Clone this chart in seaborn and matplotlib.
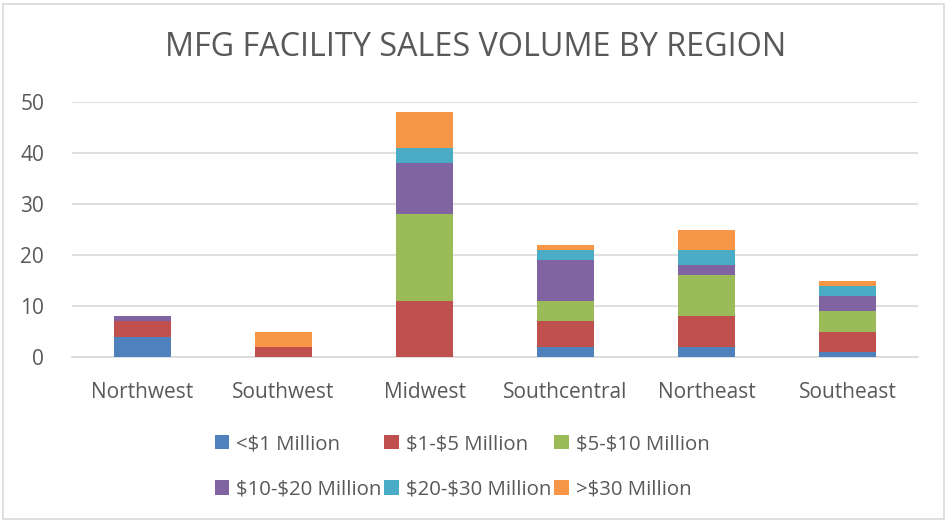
import matplotlib
matplotlib.use("Agg")
import matplotlib.pyplot as plt
import seaborn as sns
import numpy as np
import pandas as pd
from matplotlib.patches import Rectangle, Patch

regions = ["Northwest", "Southwest", "Midwest", "Southcentral", "Northeast", "Southeast"]
series_names = ["<$1 Million", "$1-$5 Million", "$5-$10 Million",
                "$10-$20 Million", "$20-$30 Million", ">$30 Million"]
lt1 = [4, 0, 0, 2, 2, 1]
m1_5 = [3, 2, 11, 5, 6, 4]
m5_10 = [0, 0, 17, 4, 8, 4]
m10_20 = [1, 0, 10, 8, 2, 3]
m20_30 = [0, 0, 3, 2, 3, 2]
gt30 = [0, 3, 7, 1, 4, 1]
colors = ["#4f81bd", "#c0504d", "#9bbb59", "#8064a2", "#4bacc6", "#f79646"]
yticks = [0, 10, 20, 30, 40, 50]

sns.set_theme(style="white")
plt.rcParams["font.family"] = ["Open Sans", "DejaVu Sans"]
plt.rcParams["text.parse_math"] = False
txt = "#595959"

fig = plt.figure(figsize=(9.48, 5.22), dpi=100)
ax = fig.add_axes([72/948, 1-357/522, (918-72)/948, (357-102)/522])

series = [lt1, m1_5, m5_10, m10_20, m20_30, gt30]
cum = np.cumsum(np.array(series), axis=0)
for i in range(len(series) - 1, -1, -1):
    df = pd.DataFrame({"region": regions, "value": cum[i]})
    sns.barplot(data=df, x="region", y="value", color=colors[i], width=0.4,
                saturation=1, ax=ax, edgecolor="none", linewidth=0, zorder=3)

ax.set_ylim(0, 50)
ax.set_yticks(yticks)
ax.grid(axis="y", color="#d9d9d9", linewidth=1.2, zorder=0)
ax.grid(axis="x", visible=False)
for s in ["top", "right", "left"]:
    ax.spines[s].set_visible(False)
ax.spines["bottom"].set_color("#d9d9d9")
ax.spines["bottom"].set_linewidth(1.2)
ax.set_xlabel("")
ax.set_ylabel("")
ax.tick_params(axis="both", length=0, labelsize=15, colors=txt)
ax.tick_params(axis="y", pad=20)
ax.tick_params(axis="x", pad=18)

fig.text(476/948, 1-47/522, "MFG FACILITY SALES VOLUME BY REGION", ha="center", va="center",
         fontsize=23.3, color=txt)

order = [0, 3, 1, 4, 2, 5]
handles = [Patch(facecolor=colors[k], edgecolor="none") for k in order]
labels = [series_names[k] for k in order]
fig.legend(handles, labels, loc="center", bbox_to_anchor=(462/948, 1-467/522), ncol=3,
           frameon=False, fontsize=14.7, labelcolor=txt, handlelength=0.7, handleheight=0.7,
           handletextpad=0.35, columnspacing=0.15, labelspacing=1.25)

fig.patches.append(Rectangle((3/948, 3/522), 941/948, 515/522, transform=fig.transFigure,
                             fill=False, edgecolor="#d9d9d9", linewidth=1.2))

fig.savefig("out.png", dpi=100)
